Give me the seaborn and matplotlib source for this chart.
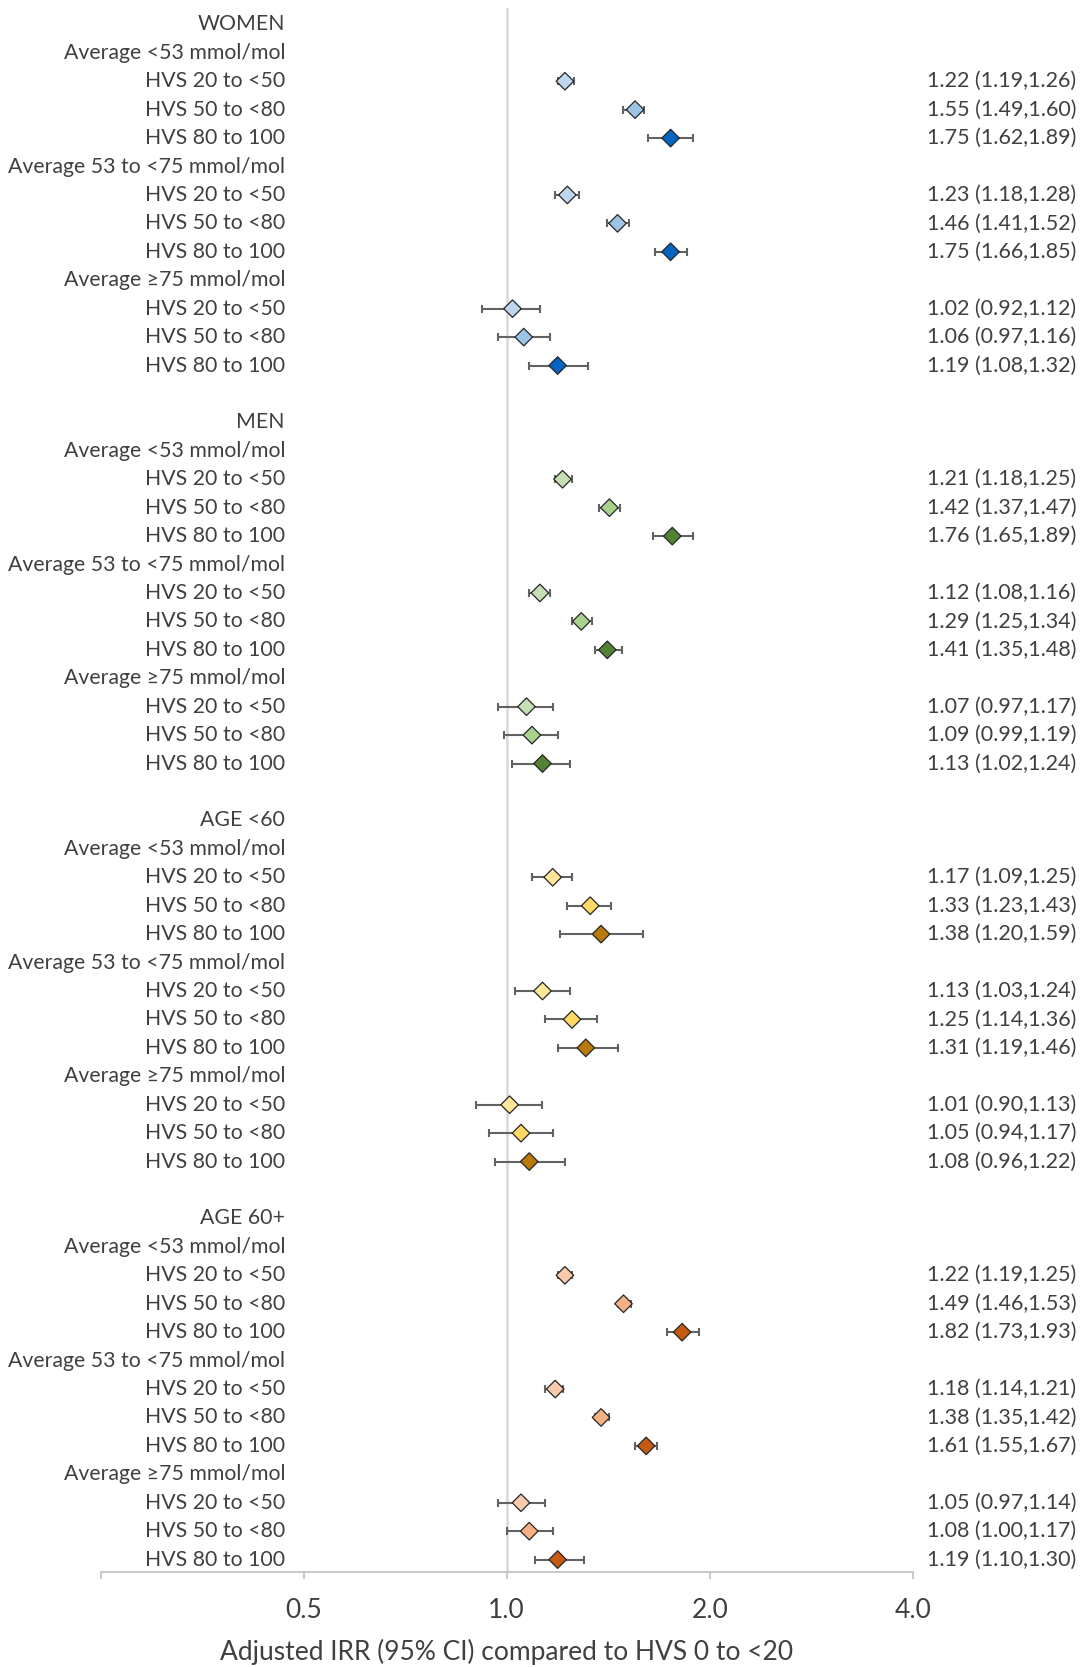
import numpy as np
import pandas as pd
import matplotlib
matplotlib.use("Agg")
import matplotlib.pyplot as plt
import seaborn as sns
from matplotlib.transforms import blended_transform_factory

# ---- data -------------------------------------------------------------
groups = ["WOMEN", "MEN", "AGE <60", "AGE 60+"]
bands = ["Average <53 mmol/mol", "Average 53 to <75 mmol/mol", "Average \u226575 mmol/mol"]
hvs_levels = ["HVS 20 to <50", "HVS 50 to <80", "HVS 80 to 100"]

# IRR and 95% CI, ordered band by band (3 HVS levels per band)
women_irr = [1.22, 1.55, 1.75, 1.23, 1.46, 1.75, 1.02, 1.06, 1.19]
women_lo = [1.19, 1.49, 1.62, 1.18, 1.41, 1.66, 0.92, 0.97, 1.08]
women_hi = [1.26, 1.60, 1.89, 1.28, 1.52, 1.85, 1.12, 1.16, 1.32]

men_irr = [1.21, 1.42, 1.76, 1.12, 1.29, 1.41, 1.07, 1.09, 1.13]
men_lo = [1.18, 1.37, 1.65, 1.08, 1.25, 1.35, 0.97, 0.99, 1.02]
men_hi = [1.25, 1.47, 1.89, 1.16, 1.34, 1.48, 1.17, 1.19, 1.24]

young_irr = [1.17, 1.33, 1.38, 1.13, 1.25, 1.31, 1.01, 1.05, 1.08]
young_lo = [1.09, 1.23, 1.20, 1.03, 1.14, 1.19, 0.90, 0.94, 0.96]
young_hi = [1.25, 1.43, 1.59, 1.24, 1.36, 1.46, 1.13, 1.17, 1.22]

old_irr = [1.22, 1.49, 1.82, 1.18, 1.38, 1.61, 1.05, 1.08, 1.19]
old_lo = [1.19, 1.46, 1.73, 1.14, 1.35, 1.55, 0.97, 1.00, 1.10]
old_hi = [1.25, 1.53, 1.93, 1.21, 1.42, 1.67, 1.14, 1.17, 1.30]

group_data = {
    "WOMEN": (women_irr, women_lo, women_hi),
    "MEN": (men_irr, men_lo, men_hi),
    "AGE <60": (young_irr, young_lo, young_hi),
    "AGE 60+": (old_irr, old_lo, old_hi),
}

# marker shades: light / medium / dark for the three HVS levels
group_colors = {
    "WOMEN": ["#BDD7EE", "#9DC3E6", "#0563C1"],
    "MEN": ["#C5E0B4", "#A9D18E", "#548235"],
    "AGE <60": ["#FFE699", "#FFD966", "#B97A0A"],
    "AGE 60+": ["#F8CBAD", "#F4B183", "#C55A11"],
}

x_ticks = [0.25, 0.5, 1.0, 2.0, 4.0]
x_ticklabels = ["", "0.5", "1.0", "2.0", "4.0"]
x_title = "Adjusted IRR (95% CI) compared to HVS 0 to <20"

# ---- build the row layout --------------------------------------------
records = []
row_labels = []
row = 0
for g in groups:
    irr, lo, hi = group_data[g]
    row_labels.append((row, g))
    row += 1
    for bi, b in enumerate(bands):
        row_labels.append((row, b))
        row += 1
        for hi_idx, h in enumerate(hvs_levels):
            k = bi * 3 + hi_idx
            records.append(dict(row=row, group=g, band=b, hvs=h,
                                irr=irr[k], lo=lo[k], hi=hi[k],
                                shade=f"{g}|{h}"))
            row_labels.append((row, h))
            row += 1
    row += 1  # spacer between groups

df = pd.DataFrame(records)
palette = {f"{g}|{h}": group_colors[g][i]
           for g in groups for i, h in enumerate(hvs_levels)}

# ---- figure -----------------------------------------------------------
sns.set_style("white")
plt.rcParams["font.family"] = ["Lato", "DejaVu Sans"]
text_color = "#404040"

W, H = 1084, 1667
fig = plt.figure(figsize=(W / 100, H / 100), dpi=100)
ax_left, ax_right, ax_top, ax_bottom = 100.7, 912.7, 8.0, 1571.7
ax = fig.add_axes([ax_left / W, 1 - ax_bottom / H,
                   (ax_right - ax_left) / W, (ax_bottom - ax_top) / H])

ax.set_xscale("log", base=2)
ax.set_xlim(0.25, 4.0)
ax.set_ylim(54.425, -0.575)

# reference line at IRR = 1
ax.axvline(1.0, color="#D9D9D9", lw=1.8, zorder=1)

# confidence intervals
ax.errorbar(df["irr"], df["row"],
            xerr=[df["irr"] - df["lo"], df["hi"] - df["irr"]],
            fmt="none", ecolor="#626262", elinewidth=1.5,
            capsize=3.2, capthick=1.5, zorder=2)

# point estimates
sns.scatterplot(data=df, x="irr", y="row", hue="shade", palette=palette,
                marker="D", s=80, edgecolor="#262626", linewidth=0.9,
                legend=False, zorder=3, ax=ax)

# row labels and value annotations
trans = blended_transform_factory(ax.transAxes, ax.transData)
label_x = (285 - ax_left) / (ax_right - ax_left)
value_x = (1076.5 - ax_left) / (ax_right - ax_left)
for r, txt in row_labels:
    ax.text(label_x, r, txt, transform=trans, ha="right", va="center",
            fontsize=15.3, color=text_color)
for _, rec in df.iterrows():
    ax.text(value_x, rec["row"],
            f"{rec['irr']:.2f} ({rec['lo']:.2f},{rec['hi']:.2f})",
            transform=trans, ha="right", va="center",
            fontsize=15.5, color=text_color, clip_on=False)

# axes styling
for side in ["top", "right", "left"]:
    ax.spines[side].set_visible(False)
ax.spines["bottom"].set_color("#BFBFBF")
ax.spines["bottom"].set_linewidth(1.2)
ax.set_yticks([])
ax.set_xticks(x_ticks)
ax.set_xticklabels(x_ticklabels)
ax.xaxis.set_minor_locator(matplotlib.ticker.NullLocator())
ax.tick_params(axis="x", which="major", direction="out", length=5,
               width=1.2, color="#BFBFBF", labelsize=19,
               labelcolor=text_color, pad=14, bottom=True)
ax.set_xlabel(x_title, fontsize=19, color=text_color)
ax.set_ylabel("")
ax.xaxis.label.set_va("center")
ax.xaxis.set_label_coords(0.5, -80 / (ax_bottom - ax_top))

fig.savefig("out.png", dpi=100)
